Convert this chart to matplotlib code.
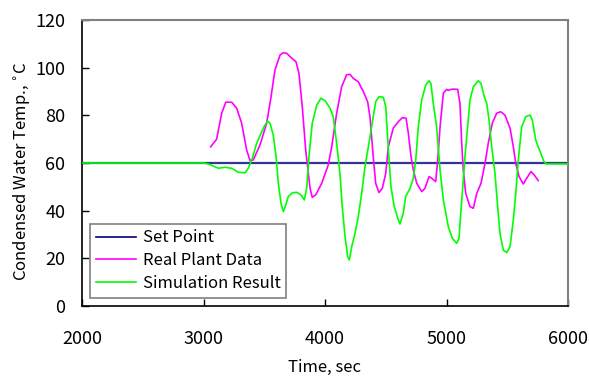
import matplotlib
matplotlib.use("Agg")
import matplotlib.pyplot as plt

# Set point
sp_time = [2000, 6000]
sp_temp = [60, 60]

# Real plant data
real_time = [3059, 3108, 3150, 3183, 3232, 3273, 3314, 3355, 3383, 3410, 3465, 3520, 3556, 3588,
             3630, 3657, 3685, 3726, 3761, 3786, 3813, 3841, 3877, 3895, 3923, 3973, 4027, 4055,
             4096, 4137, 4178, 4206, 4233, 4274, 4315, 4351, 4370, 4397, 4417, 4444, 4472, 4500,
             4521, 4562, 4603, 4636, 4667, 4686, 4708, 4727, 4755, 4796, 4823, 4856, 4878, 4911,
             4928, 4947, 4974, 5002, 5015, 5048, 5092, 5111, 5125, 5138, 5158, 5193, 5221, 5249,
             5284, 5317, 5344, 5377, 5413, 5446, 5481, 5523, 5550, 5570, 5597, 5632, 5660, 5695,
             5722, 5755]
real_temp = [66.8, 70, 80.9, 85.5, 85.5, 83, 76.7, 65.5, 61, 61.3, 67.6, 76.7, 87.8, 99,
             105.3, 106.3, 106, 104, 102.5, 97.6, 83.6, 65.5, 49.4, 45.6, 46.6, 51.5, 59.2, 66.8,
             80.9, 92, 97, 97.2, 95.5, 94.1, 90, 85.7, 79.4, 62.7, 51.5, 47.6, 49.4, 55.7,
             66.8, 74.6, 77.3, 79, 78.8, 72.5, 62.7, 57, 51.5, 48, 49.4, 54.3, 53.6, 52.2,
             61.3, 75.2, 89.3, 90.9, 90.5, 91, 90.9, 85, 68.3, 57, 47.3, 41.7, 41, 47.3,
             51.5, 59.9, 68.3, 76.7, 80.9, 81.5, 80.1, 74.6, 66.8, 59.9, 54.3, 51.2, 53.6, 56.4,
             55, 52.6]

# Simulation result
sim_time = [2000, 3000, 3040, 3122, 3177, 3232, 3286, 3342, 3369, 3402, 3438, 3479, 3506, 3528,
            3547, 3574, 3597, 3616, 3638, 3657, 3677, 3698, 3731, 3767, 3802, 3830, 3849, 3868,
            3895, 3932, 3967, 4003, 4041, 4068, 4096, 4123, 4142, 4165, 4187, 4200, 4220, 4247,
            4274, 4302, 4329, 4362, 4397, 4417, 4444, 4480, 4500, 4510, 4527, 4543, 4570, 4599,
            4617, 4644, 4664, 4700, 4727, 4747, 4768, 4796, 4829, 4856, 4872, 4891, 4919, 4947,
            4974, 5015, 5048, 5084, 5103, 5111, 5130, 5152, 5179, 5193, 5221, 5262, 5284, 5311,
            5331, 5350, 5372, 5399, 5421, 5440, 5467, 5495, 5523, 5550, 5570, 5591, 5619, 5652,
            5687, 5706, 5734, 5770, 5802, 5824, 6000]
sim_temp = [60, 60, 59.6, 57.8, 58.2, 57.8, 56.1, 55.9, 57.8, 62, 68.3, 73.1, 75.9, 77.6,
            76.7, 71.8, 62.7, 51.5, 43.1, 39.6, 42.4, 45.9, 47.5, 47.7, 46.6, 44.5, 49.4, 62.7,
            76.7, 84.3, 87.2, 86, 83, 79.4, 68.3, 55.7, 41.7, 29.1, 20.7, 19.3, 24.9, 30.5,
            37.5, 47.3, 58.5, 68.3, 79.4, 85.7, 87.8, 87.6, 83.6, 75.2, 61.3, 50, 41.7, 36.8,
            34.4, 38.9, 45.9, 49.4, 53.6, 61.3, 75.2, 86.4, 92.7, 94.5, 93.4, 85, 75.2, 57,
            44.5, 33.3, 28.4, 26.3, 28.4, 34.7, 47.3, 62.7, 78.1, 86.4, 92, 94.5, 93.4, 87.8,
            85, 78.1, 66.8, 55.7, 41.7, 30.5, 23.5, 22.4, 24.9, 36.1, 47.3, 61.3, 75.2, 79.4,
            80.1, 78.1, 69.7, 64.8, 60.6, 59.6, 59.6]

x_ticks = [2000, 3000, 4000, 5000, 6000]
y_ticks = [0, 20, 40, 60, 80, 100, 120]

plt.rcParams['font.family'] = ['Noto Sans CJK JP', 'DejaVu Sans']

fig = plt.figure(figsize=(5.89, 3.80), dpi=100)
ax = fig.add_axes([82/589, 1-306/380, (568-82)/589, (306-20)/380])

ax.plot(sp_time, sp_temp, color='#333399', lw=1.6, label='Set Point', zorder=2)
ax.plot(real_time, real_temp, color='#FF00FF', lw=1.2, label='Real Plant Data', zorder=3)
ax.plot(sim_time, sim_temp, color='#00FF00', lw=1.2, label='Simulation Result', zorder=4)

ax.set_xlim(2000, 6000)
ax.set_ylim(0, 120)
ax.set_xticks(x_ticks)
ax.set_yticks(y_ticks)
ax.tick_params(direction='in', labelsize=13, length=5, width=1)
ax.tick_params(axis='x', pad=17)
ax.tick_params(axis='y', pad=12)

for s in ['top', 'right']:
    ax.spines[s].set_color('#808080')
    ax.spines[s].set_linewidth(1.5)
for s in ['left', 'bottom']:
    ax.spines[s].set_color('black')
    ax.spines[s].set_linewidth(1.2)

ax.set_xlabel('Time, sec', fontsize=12, labelpad=8)
ax.set_ylabel('Condensed Water Temp., $^{\\circ}$C', fontsize=12)
ax.yaxis.set_label_coords(-50/486, 0.47)

handles = [plt.Line2D([], [], color='#000080', lw=1.2),
           plt.Line2D([], [], color='#FF00FF', lw=1.2),
           plt.Line2D([], [], color='#00FF00', lw=1.2)]
leg = ax.legend(handles, ['Set Point', 'Real Plant Data', 'Simulation Result'],
                loc='lower left', bbox_to_anchor=(0.0165, 0.028), fontsize=12,
                frameon=True, fancybox=False, edgecolor='#808080', framealpha=1,
                handlelength=2.4, handletextpad=0.4, borderpad=0.35, labelspacing=0.35,
                borderaxespad=0)
leg.get_frame().set_linewidth(1.2)

fig.savefig('out.png', dpi=100)
